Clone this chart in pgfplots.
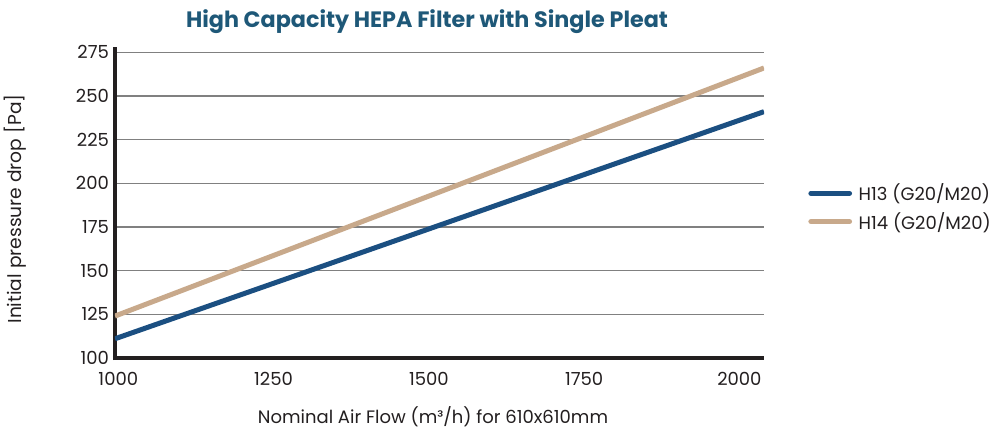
\documentclass[border=0pt]{standalone}
\usepackage{pgfplots}
\pgfplotsset{compat=1.18}
\usepackage{fontspec}
\setmainfont{Poppins}
\definecolor{titlec}{HTML}{1E5878}
\definecolor{hthirteen}{HTML}{1B4F81}
\definecolor{hfourteen}{HTML}{C8A98B}
\definecolor{axc}{HTML}{231F20}
\definecolor{gridc}{HTML}{808080}
\definecolor{txt}{HTML}{231F20}
\begin{document}
\begin{tikzpicture}
\def\px{0.75pt}
\begin{axis}[
  scale only axis,
  width={649*0.75pt}, height={311*0.75pt},
  xmin=1000, xmax=2045,
  ymin=100, ymax=278,
  xtick={1000,1250,1500,1750,2000},
  ytick={100,125,150,175,200,225,250,275},
  axis x line*=bottom, axis y line*=left,
  axis line style={line width=3pt, color=axc, -},
  x axis line style={shorten <=-1.5pt},
  y axis line style={shorten <=-1.5pt},
  major tick length=0pt,
  ymajorgrids, grid style={line width=1pt, gridc},
  /pgf/number format/assume math mode=true,
  /pgf/number format/1000 sep={},
  ticklabel style={font=\fontsize{13.5}{16}\selectfont, color=txt},
  xticklabel style={yshift=-7pt, xshift=2.5pt},
  yticklabel style={xshift=-1pt},
  legend style={at={(rel axis cs:1.068,0.484)}, anchor=west, draw=none, fill=none,
    inner sep=0pt, font=\fontsize{13.5}{16}\selectfont, text=txt,
    row sep=3pt},
  legend cell align=left,
  legend image code/.code={\draw[#1, line cap=round] (0pt,0pt) -- (29pt,0pt);},
  every axis plot/.append style={line width=3.75pt},
]
\addplot[hthirteen, no marks] coordinates {(1000,111) (2045,241)};
\addlegendentry{\hspace{3pt}H13 (G20/M20)}
\addplot[hfourteen, no marks] coordinates {(1000,124) (2045,266)};
\addlegendentry{\hspace{3pt}H14 (G20/M20)}
\end{axis}
\path[use as bounding box] ({-115*\px},{-72*\px}) rectangle ({886*\px},{358*\px});
\node[font=\fontsize{16.7}{20}\selectfont\bfseries, text=titlec] at ({312*\px},{336*\px}) {High Capacity HEPA Filter with Single Pleat};
\node[font=\fontsize{13.5}{16}\selectfont, text=txt] at ({318*\px},{-59*\px}) {Nominal Air Flow (m³/h) for 610x610mm};
\node[font=\fontsize{14}{17}\selectfont, text=txt, rotate=90] at ({-100*\px},{149*\px}) {Initial pressure drop [Pa]};
\end{tikzpicture}
\end{document}
